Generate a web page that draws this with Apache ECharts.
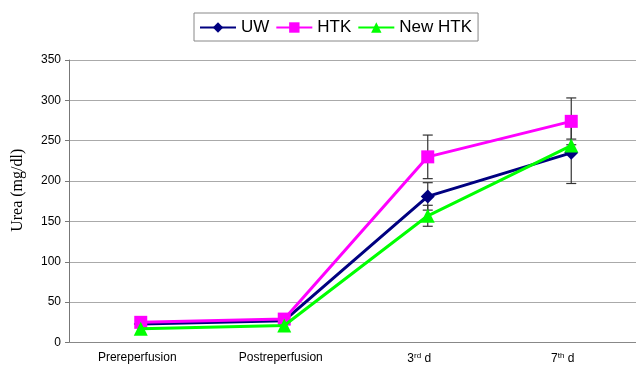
<!DOCTYPE html>
<html><head><meta charset="utf-8">
<script src="https://cdn.jsdelivr.net/npm/echarts@6/dist/echarts.min.js"></script>
<style>html,body{margin:0;padding:0;background:#fff;overflow:hidden}#c{width:643px;height:366px}</style>
</head><body><div id="c"></div>
<script>
var categories = ['Prereperfusion', 'Postreperfusion', '3rd d', '7th d'];
var yTicks = [0, 50, 100, 150, 200, 250, 300, 350];
var uw = [23, 27, 181, 235];
var htk = [25, 29, 230, 274];
var newHtk = [17, 21, 157, 244];
var uwErr = [0, 0, 17, 38];
var htkErr = [0, 0, 27, 29];
var newHtkErr = [0, 0, 13, 8];

var chart = echarts.init(document.getElementById('c'));
var F = 'Liberation Sans, Arial, sans-serif';

function errSeries(vals, errs, z) {
  var data = vals.map(function (v, i) { return [i, v - errs[i], v + errs[i]]; });
  return {
    type: 'custom', z: z, silent: true,
    data: data,
    renderItem: function (params, api) {
      var x = api.value(0), lo = api.value(1), hi = api.value(2);
      if (hi - lo <= 0) return null;
      var p1 = api.coord([x, lo]), p2 = api.coord([x, hi]);
      var w = 5;
      var st = { stroke: '#333', lineWidth: 1.2 };
      return { type: 'group', children: [
        { type: 'line', shape: { x1: p1[0], y1: p1[1], x2: p2[0], y2: p2[1] }, style: st },
        { type: 'line', shape: { x1: p1[0] - w, y1: p1[1], x2: p1[0] + w, y2: p1[1] }, style: st },
        { type: 'line', shape: { x1: p2[0] - w, y1: p2[1], x2: p2[0] + w, y2: p2[1] }, style: st }
      ]};
    }
  };
}

var diamond = 'path://M0,-1L1,0L0,1L-1,0Z';

chart.setOption({
  animation: false,
  grid: { left: 69, right: 0, top: 60, bottom: 23.5, containLabel: false, outerBoundsMode: 'none' },
  legend: {
    top: 13, left: 194,
    data: ['UW', 'HTK', 'New HTK'],
    itemWidth: 36, itemHeight: 13, itemGap: 6,
    borderColor: '#888', borderWidth: 1, padding: [6, 6, 5, 5],
    textStyle: { fontFamily: F, fontSize: 17, color: '#000' }
  },
  xAxis: {
    type: 'category', data: categories,
    axisLine: { lineStyle: { color: '#888' } },
    axisTick: { show: false },
    axisLabel: {
      margin: 9, color: '#000', fontFamily: F, fontSize: 12,
      formatter: function (v) {
        if (v === '3rd d') return '{n|3}{s|rd}{e| d}';
        if (v === '7th d') return '{n|7}{s|th}{e| d}';
        return '{p|' + v + '}';
      },
      rich: {
        p: { fontFamily: F, fontSize: 12, color: '#000', padding: [0, 7, 0, 0] },
        n: { fontFamily: F, fontSize: 12, color: '#000' },
        e: { fontFamily: F, fontSize: 12, color: '#000', padding: [0, 17, 0, 0] },
        s: { fontFamily: F, fontSize: 8, color: '#000', verticalAlign: 'top', padding: [0, 0, 6, 0] }
      }
    }
  },
  yAxis: {
    type: 'value', min: 0, max: 350, interval: 50,
    name: 'Urea (mg/dl)', nameLocation: 'middle', nameGap: 43,
    nameTextStyle: { fontFamily: 'Liberation Serif, Times New Roman, serif', fontSize: 16, color: '#000', padding: [0, 0, 0, 22] },
    axisLine: { show: true, lineStyle: { color: '#777' } },
    axisTick: { show: true, length: 4, lineStyle: { color: '#777' } },
    axisLabel: { color: '#000', fontFamily: F, fontSize: 12, margin: 8,
      formatter: function (v) { return yTicks.indexOf(v) >= 0 ? String(v) : ''; } },
    splitLine: { lineStyle: { color: '#aaa', width: 1 } }
  },
  series: [
    errSeries(uw, uwErr, 1),
    errSeries(htk, htkErr, 1),
    errSeries(newHtk, newHtkErr, 1),
    { name: 'UW', type: 'line', data: uw, z: 3, symbol: diamond, symbolSize: 14,
      lineStyle: { color: '#000080', width: 3 }, itemStyle: { color: '#000080' } },
    { name: 'HTK', type: 'line', data: htk, z: 4, symbol: 'rect', symbolSize: 13,
      lineStyle: { color: '#ff00ff', width: 3 }, itemStyle: { color: '#ff00ff' } },
    { name: 'New HTK', type: 'line', data: newHtk, z: 5, symbol: 'triangle', symbolSize: 14,
      lineStyle: { color: '#00ff00', width: 3 }, itemStyle: { color: '#00ff00' } }
  ]
});
</script></body></html>
